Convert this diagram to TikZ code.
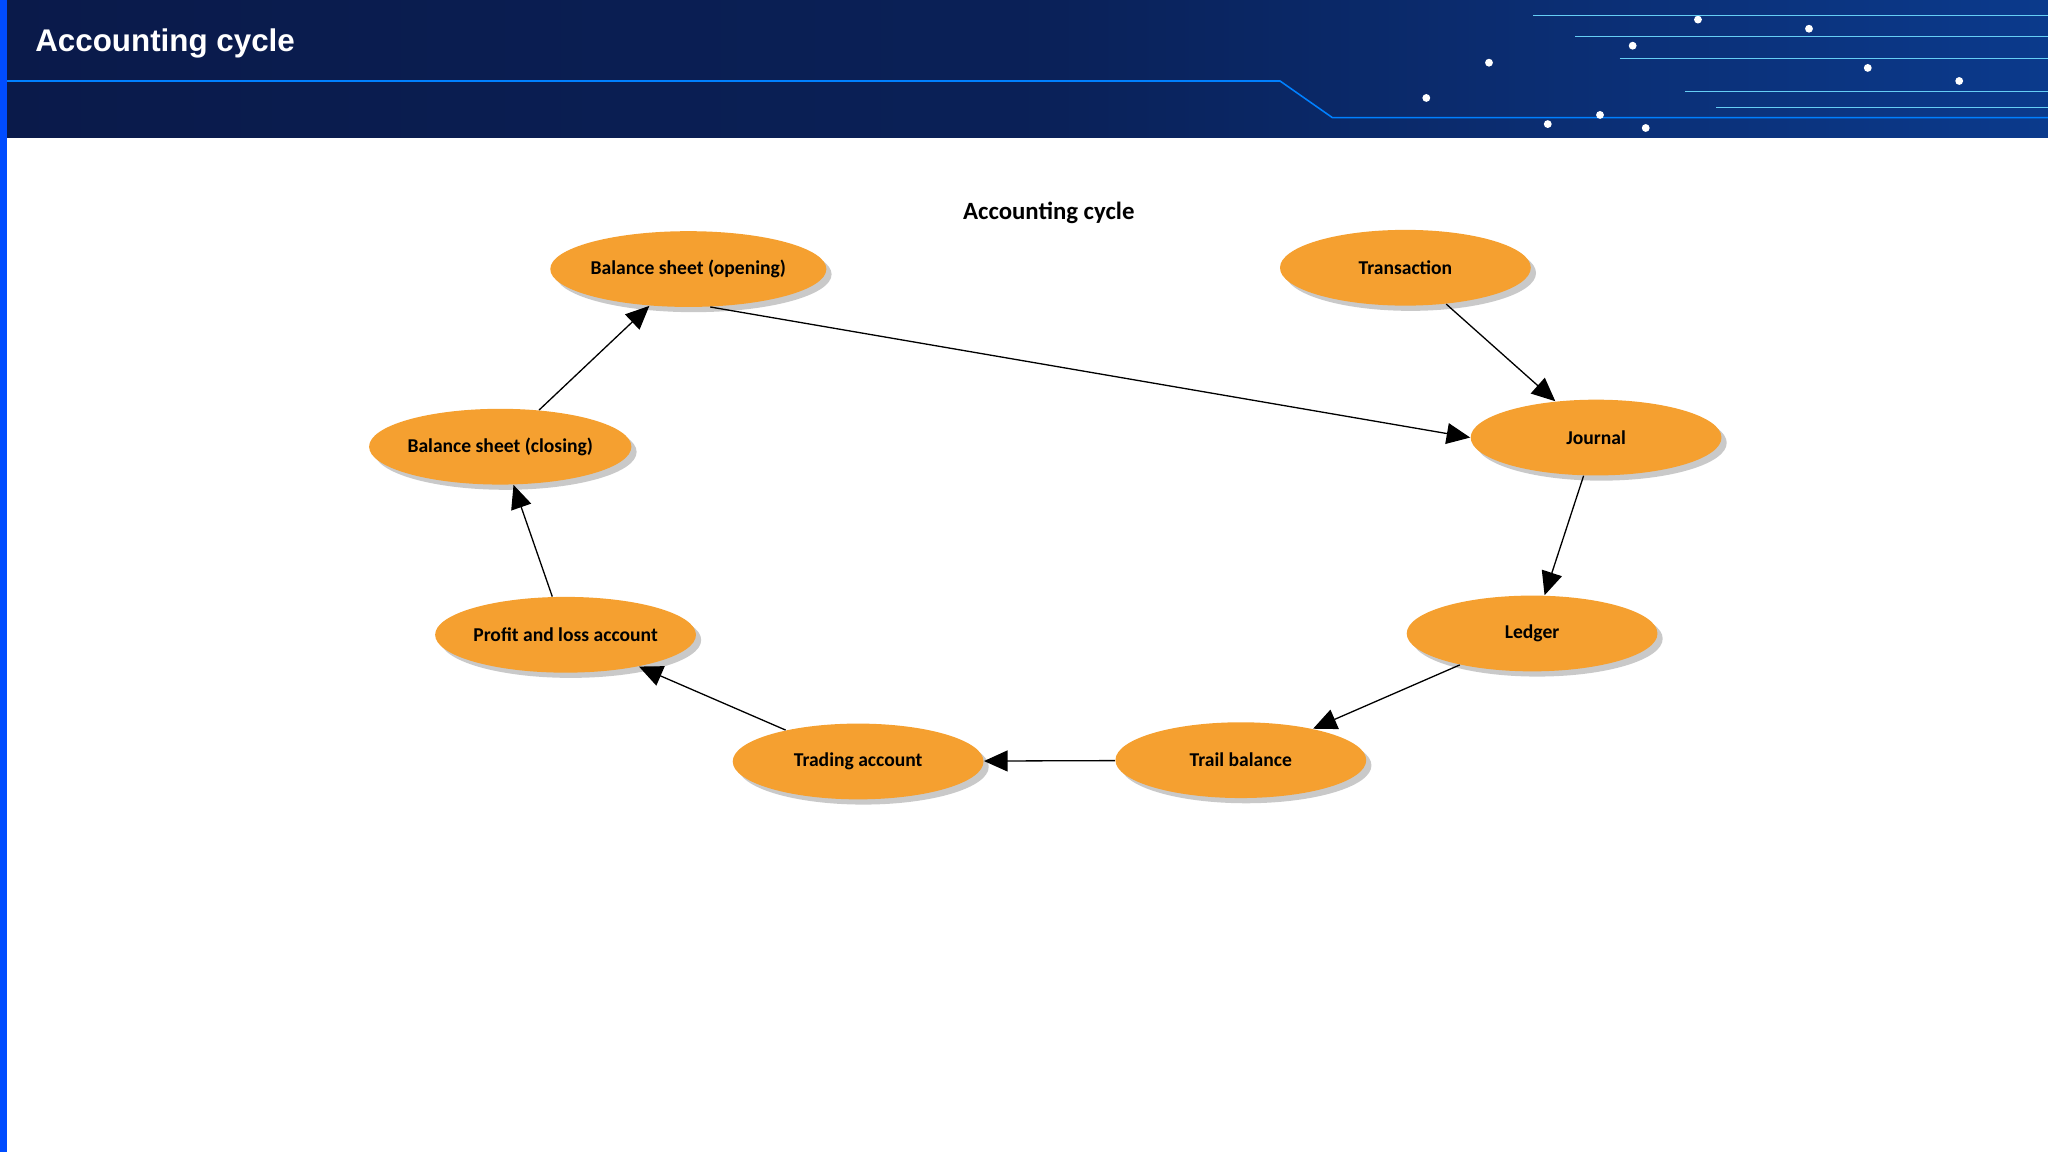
\documentclass[tikz,border=0pt]{standalone}
\usepackage{fontspec}
\setmainfont{Carlito}
\newfontfamily\titlefont{Liberation Sans}
\usetikzlibrary{shadows,arrows.meta,shapes.geometric}
\definecolor{hdrA}{HTML}{0A1A4A}
\definecolor{hdrB}{HTML}{0B3A8C}
\definecolor{orng}{HTML}{F5A030}
\begin{document}
\begin{tikzpicture}[x=0.5pt,y=-0.5pt,
  ev/.style={ellipse,fill=orng,minimum width=96pt,minimum height=29pt,inner sep=0pt,
    font=\fontsize{7.5pt}{9pt}\selectfont\bfseries,
    drop shadow={shadow xshift=2pt,shadow yshift=-2pt,fill=black!35,opacity=0.6}},
  arr/.style={-{Triangle[length=9pt,width=8pt]},line width=0.5pt,black}]
\useasboundingbox (0,0) rectangle (1568,882);
\fill[white] (0,0) rectangle (1568,882);
\shade[left color=hdrA,right color=hdrB,middle color=hdrA!80!hdrB] (0,0) rectangle (1568,105);
\draw[blue!50!cyan,line width=0.6pt] (0,62) -- (980,62) -- (1020,90) -- (1568,90);
\foreach \y/\x in {15/1300,22/1385,35/1250,48/1140,52/1430,62/1500,75/1092,88/1225,95/1185,98/1260}{
  \fill[white] (\x,\y) circle (3);}
\foreach \y in {12,28,45,70,82}{\draw[cyan!60,line width=0.4pt] (1150+\y*2,\y) -- (1568,\y);}
\fill[blue!70!cyan] (0,0) rectangle (5,882);
\node[anchor=west,font=\titlefont\fontsize{12pt}{14pt}\selectfont\bfseries,text=white] (title) at (20,33) {Accounting cycle};
\node[font=\fontsize{9.5pt}{11pt}\selectfont\bfseries] (head) at (803,163) {Accounting cycle};
\node[ev] (bso) at (527,206) {Balance sheet (opening)};
\node[ev] (tr) at (1076,205) {Transaction};
\node[ev] (jo) at (1222,335) {Journal};
\node[ev] (le) at (1173,485) {Ledger};
\node[ev] (tb) at (950,582) {Trail balance};
\node[ev] (ta) at (657,583) {Trading account};
\node[ev] (pl) at (433,486) {Profit and loss account};
\node[ev] (bsc) at (383,342) {Balance sheet (closing)};
\draw[arr] (bso.-60) -- (jo.west);
\draw[arr] (tr) -- (jo);
\draw[arr] (jo) -- (le);
\draw[arr] (le) -- (tb);
\draw[arr] (tb) -- (ta);
\draw[arr] (ta) -- (pl);
\draw[arr] (pl) -- (bsc);
\draw[arr] (bsc) -- (bso);
\end{tikzpicture}
\end{document}
